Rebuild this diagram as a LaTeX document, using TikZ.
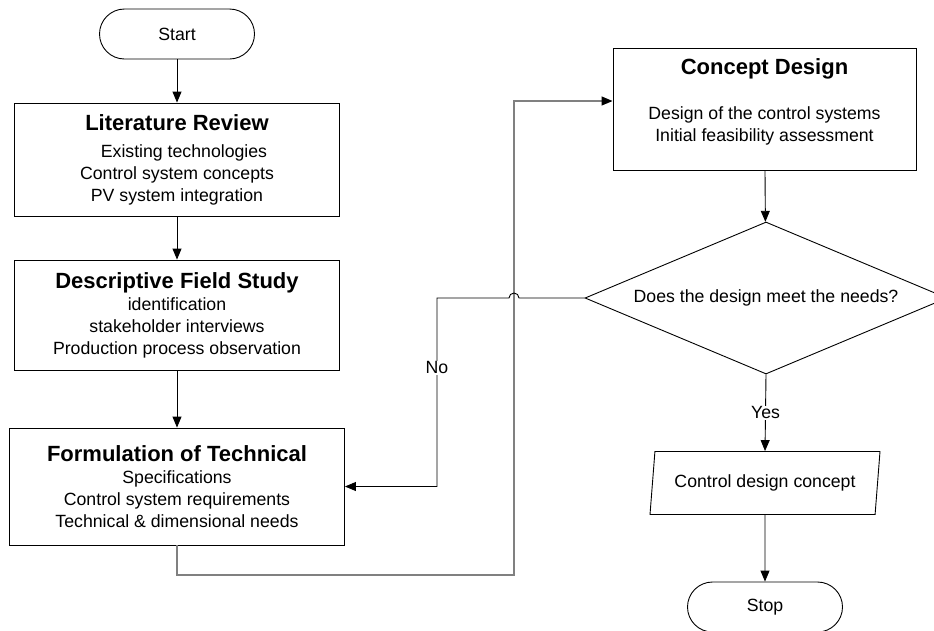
\documentclass[tikz,border=0pt]{standalone}
\usepackage{fontspec}
\setmainfont{Liberation Sans}
\usetikzlibrary{arrows.meta,shapes.geometric,positioning}

\newcommand{\boxtitle}[1]{{\fontsize{22}{26}\selectfont\bfseries #1}}

\tikzset{
  every node/.style={font=\fontsize{17.7}{22}\selectfont},
  line/.style={draw, line width=0.9pt},
  flow/.style={line, -{Triangle[length=11pt,width=9pt]}},
  route/.style={draw=black!50, line width=1.3pt, -{Triangle[length=11pt,width=9pt,color=black]}},
  term/.style={draw, line width=0.9pt, rounded corners=25pt, minimum width=155pt, minimum height=50pt},
  proc/.style={draw, line width=0.9pt, align=center, inner sep=0pt, fill=white},
  decide/.style={draw, diamond, aspect=2.3, line width=0.9pt, inner sep=0pt, minimum width=362pt, minimum height=152pt},
  io/.style={draw, trapezium, trapezium left angle=78, trapezium right angle=102, trapezium stretches body, line width=0.9pt, minimum width=230pt, minimum height=63pt},
  lbl/.style={fill=white, inner sep=1pt}
}

\begin{document}
\begin{tikzpicture}[x=1pt,y=-1pt]
\useasboundingbox (0,0) rectangle (934,630);

% left column
\node [term](start) at (177,34) {Start};
\node [proc, minimum width=325pt, minimum height=113pt](lit) at (177,159.5) {\boxtitle{Literature Review}\\[5pt] \hspace*{14pt}Existing technologies\\ Control system concepts\\ PV system integration};
\node [proc, minimum width=325pt, minimum height=110pt](desc) at (177,315) {\boxtitle{Descriptive Field Study}\\ identification\\ stakeholder interviews\\ Production process observation};
\node [proc, minimum width=335pt, minimum height=117pt](form) at (177,486.5) {\boxtitle{Formulation of Technical}\\ Specifications\\ Control system requirements\\ Technical \& dimensional needs};

% right column
\node [proc, minimum width=303pt, minimum height=122pt](concept) at (764.5,109) {};
\node [align=center, inner sep=0pt, anchor=north](concepttext) at ([yshift=-11pt]concept.north) {\boxtitle{Concept Design}\\[23pt] Design of the control systems\\ Initial feasibility assessment};
\node [decide](check) at (766,298) {Does the design meet the needs?};
\node [io](result) at (765,483) {Control design concept};
\node [term](stop) at (765,607) {Stop};

\coordinate (loop) at (514,575);
\coordinate (hop) at (519,298);
\coordinate (nobend) at (437,298);

\draw [flow] (start) -- (lit);
\draw [flow] (lit) -- (desc);
\draw [flow] (desc) -- (form);
\draw [route] (form.south) |- (loop) |- ([yshift=8pt]concept.west);
\draw [flow] (concept) -- (check);
\draw [flow] (check.west) -- (hop) arc[start angle=0, end angle=180, radius=5pt] -- (nobend) -- node[lbl, pos=0.37]{No} (nobend |- form.east) -- (form.east);
\draw [flow] (check.south) -- node[lbl]{Yes} (result.north);
\draw [flow] (result) -- (stop);
\end{tikzpicture}
\end{document}
